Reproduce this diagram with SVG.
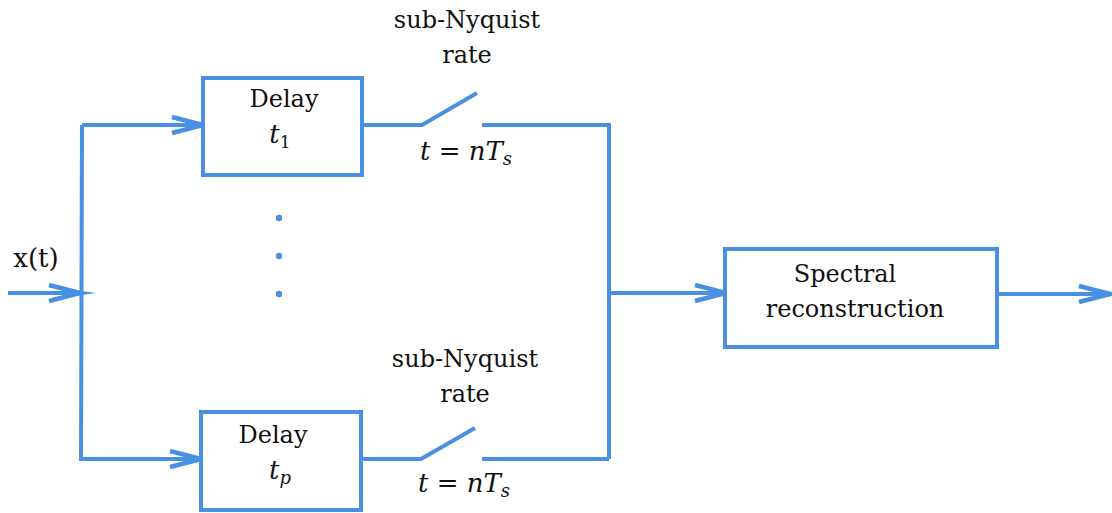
<svg xmlns="http://www.w3.org/2000/svg" width="1112" height="513" viewBox="0 0 1112 513">
<style>
.w{fill:none;stroke:#4a90e2;stroke-width:4;stroke-linecap:butt}
.box{fill:#fff;stroke:#4a90e2;stroke-width:4}
.t{font-family:"DejaVu Serif","Liberation Serif",serif;font-size:24px;fill:#111;text-anchor:middle}
.i{font-style:italic}
.m{font-size:26px}
.dot{fill:#4a90e2}
</style>
<defs>
<marker id="arr" markerUnits="userSpaceOnUse" markerWidth="60" markerHeight="30" refX="0" refY="0" viewBox="-40 -15 60 30" orient="auto" overflow="visible">
<polyline points="-31,-8 0,0 -31,8" fill="none" stroke="#4a90e2" stroke-width="4.5"/>
<polygon points="-6,-3 16,0 -6,3" fill="#4a90e2"/>
</marker>
</defs>
<g id="connectors">
<line class="w" x1="8" y1="293" x2="80" y2="293" marker-end="url(#arr)"/>
<polyline class="w" points="81,459 82,125"/>
<line class="w" x1="82" y1="125" x2="203" y2="125" marker-end="url(#arr)"/>
<line class="w" x1="79" y1="459" x2="201" y2="459" marker-end="url(#arr)"/>
<polyline class="w" points="362,125 422,125 477,93"/>
<polyline class="w" points="482,125 609,125 609,459"/>
<polyline class="w" points="361,459 421,459 475,428"/>
<polyline class="w" points="482,459 609,459"/>
<line class="w" x1="609" y1="293" x2="726" y2="293" marker-end="url(#arr)"/>
<line class="w" x1="997" y1="294" x2="1110" y2="294" marker-end="url(#arr)"/>
</g>
<g id="delay1">
<rect class="box" x="203" y="78" width="159" height="97"/>
<text class="t" x="284" y="107">Delay</text>
<text class="t m i" x="280" y="143">t<tspan font-size="17" font-style="normal" dy="5">1</tspan></text>
</g>
<g id="delayp">
<rect class="box" x="201" y="412" width="160" height="98"/>
<text class="t" x="273" y="443">Delay</text>
<text class="t m i" x="280" y="479">t<tspan font-size="18" dy="5">p</tspan></text>
</g>
<g id="spectral">
<rect class="box" x="725" y="249" width="272" height="98"/>
<text class="t" x="845" y="282">Spectral</text>
<text class="t" x="855" y="317">reconstruction</text>
</g>
<g id="switch1">
<text class="t" x="467" y="28">sub-Nyquist</text>
<text class="t" x="467" y="63">rate</text>
<text class="t m i" x="466" y="160">t <tspan font-style="normal">=</tspan> nT<tspan font-size="18" dy="5">s</tspan></text>
</g>
<g id="switchp">
<text class="t" x="465" y="367">sub-Nyquist</text>
<text class="t" x="465" y="402">rate</text>
<text class="t m i" x="464" y="492">t <tspan font-style="normal">=</tspan> nT<tspan font-size="18" dy="5">s</tspan></text>
</g>
<g id="input">
<text class="t m" x="36" y="267">x(t)</text>
</g>
<g id="dots">
<circle class="dot" cx="279" cy="218" r="3.2"/>
<circle class="dot" cx="279" cy="256" r="3.2"/>
<circle class="dot" cx="279" cy="294" r="3.2"/>
</g>
</svg>
